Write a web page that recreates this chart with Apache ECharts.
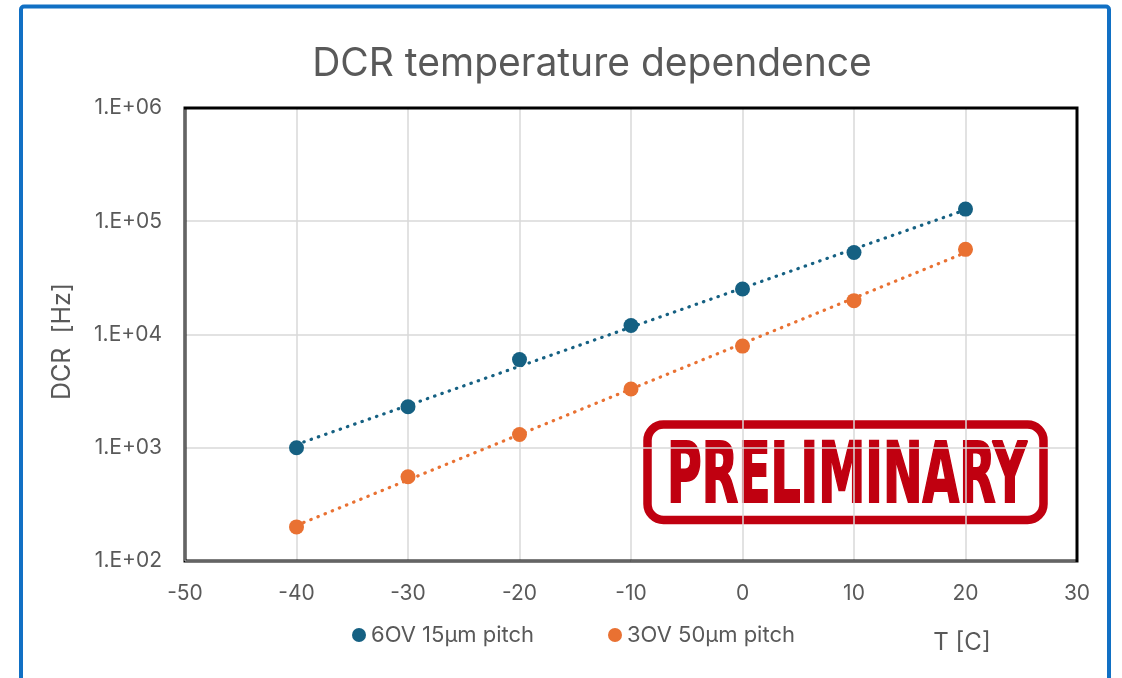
<!DOCTYPE html>
<html>
<head>
<meta charset="utf-8">
<title>DCR temperature dependence</title>
<script src="https://cdn.jsdelivr.net/npm/echarts@6/dist/echarts.min.js"></script>
<style>
  html, body { margin: 0; padding: 0; background: #ffffff; }
  #chart { width: 1122px; height: 678px; }
</style>
</head>
<body>
<div id="chart"></div>
<script>
// Temperatures [C]
const temps = [-40, -30, -20, -10, 0, 10, 20];
// Dark count rate [Hz], 6 OV over-voltage, 15 µm pitch
const dcr6OV = [1000, 2300, 6000, 12000, 25200, 53000, 128000];
// Dark count rate [Hz], 3 OV over-voltage, 50 µm pitch
const dcr3OV = [200, 555, 1310, 3300, 7900, 19900, 56500];

const seriesNames = ['6OV 15µm pitch', '3OV 50µm pitch'];
const xTickLabels = ['-50', '-40', '-30', '-20', '-10', '0', '10', '20', '30'];
const yTickLabels = ['1.E+02', '1.E+03', '1.E+04', '1.E+05', '1.E+06'];

const FONT = 'Inter, "Liberation Sans", Arial, sans-serif';
const TEXT = '#595959';
const BLUE = '#156082';
const ORANGE = '#E97132';
const STAMP_RED = '#C00010';

// Exponential trendline: least-squares fit of log10(y) against x
function expTrend(xs, ys) {
  const ly = ys.map(v => Math.log10(v));
  const n = xs.length;
  const mx = xs.reduce((a, b) => a + b, 0) / n;
  const my = ly.reduce((a, b) => a + b, 0) / n;
  let sxy = 0, sxx = 0;
  for (let i = 0; i < n; i++) {
    sxy += (xs[i] - mx) * (ly[i] - my);
    sxx += (xs[i] - mx) * (xs[i] - mx);
  }
  const b = sxy / sxx, a = my - b * mx;
  return xs.map(x => [x, Math.pow(10, a + b * x)]);
}

const pairs = (xs, ys) => xs.map((x, i) => [x, ys[i]]);

// Horizontal squeeze for the stamp text so it fills its box
function stampScale(font, text, targetWidth) {
  const ctx = document.createElement('canvas').getContext('2d');
  ctx.font = font;
  return targetWidth / ctx.measureText(text).width;
}
const STAMP_FONT = 'bold 83px "DejaVu Sans Condensed", "DejaVu Sans", sans-serif';
const stampSX = stampScale(STAMP_FONT, 'PRELIMINARY', 360);

const chart = echarts.init(document.getElementById('chart'), null, { renderer: 'canvas' });

const dotted = { type: [0.5, 7.2], width: 3.2, cap: 'round' };

const legendBase = {
  top: 624, itemWidth: 14, itemHeight: 14, padding: 0,
  textStyle: { fontFamily: FONT, fontSize: 22, lineHeight: 22, color: TEXT }
};

chart.setOption({
  animation: false,
  backgroundColor: '#ffffff',
  title: {
    text: 'DCR temperature dependence',
    left: 587,
    textAlign: 'center',
    top: 40,
    textStyle: { fontFamily: FONT, fontSize: 39, fontWeight: 'normal', color: TEXT }
  },
  grid: {
    left: 185, top: 108, right: 45, bottom: 117,
    show: false,
    outerBoundsMode: 'none'
  },
  legend: [
    Object.assign({ left: 352, data: [{ name: seriesNames[0], icon: 'circle' }] }, legendBase),
    Object.assign({ left: 608, data: [{ name: seriesNames[1], icon: 'circle' }] }, legendBase)
  ],
  xAxis: {
    type: 'value',
    min: -50, max: 30, interval: 10,
    name: 'T [C]',
    nameLocation: 'end',
    nameGap: -115,
    nameTextStyle: {
      fontFamily: FONT, fontSize: 24, color: TEXT,
      align: 'center', verticalAlign: 'top', padding: [70, 0, 0, 0]
    },
    axisLine: { show: false },
    axisTick: { show: false },
    axisLabel: {
      margin: 22,
      fontFamily: FONT, fontSize: 21, color: TEXT,
      formatter: v => xTickLabels[Math.round((v + 50) / 10)]
    },
    splitLine: { show: true, lineStyle: { color: '#d9d9d9', width: 1.5 } }
  },
  yAxis: {
    type: 'log',
    logBase: 10,
    min: 100, max: 1000000,
    name: 'DCR  [Hz]',
    nameLocation: 'middle',
    nameRotate: 90,
    nameGap: 110,
    nameTextStyle: { fontFamily: FONT, fontSize: 25, color: TEXT, padding: [0, 14, 0, 0] },
    axisLine: { show: false },
    axisTick: { show: false },
    axisLabel: {
      margin: 23,
      fontFamily: FONT, fontSize: 21, color: TEXT,
      formatter: v => yTickLabels[Math.round(Math.log10(v)) - 2]
    },
    splitLine: { show: true, lineStyle: { color: '#d9d9d9', width: 1.5 } }
  },
  series: [
    {
      name: 'trend6', type: 'line', data: expTrend(temps, dcr6OV),
      showSymbol: false, symbol: 'none', color: BLUE,
      lineStyle: Object.assign({ color: BLUE }, dotted), z: 2, silent: true
    },
    {
      name: 'trend3', type: 'line', data: expTrend(temps, dcr3OV),
      showSymbol: false, symbol: 'none', color: ORANGE,
      lineStyle: Object.assign({ color: ORANGE }, dotted), z: 2, silent: true
    },
    {
      name: seriesNames[0], type: 'scatter', data: pairs(temps, dcr6OV),
      symbol: 'circle', symbolSize: 15, itemStyle: { color: BLUE, opacity: 1 }, z: 3
    },
    {
      name: seriesNames[1], type: 'scatter', data: pairs(temps, dcr3OV),
      symbol: 'circle', symbolSize: 15, itemStyle: { color: ORANGE, opacity: 1 }, z: 3
    }
  ],
  graphic: [
    // outer frame
    {
      type: 'rect', silent: true, z: 100,
      shape: { x: 21, y: 6.5, width: 1088, height: 720, r: 3 },
      style: { fill: null, stroke: '#1170C4', lineWidth: 4 }
    },
    // plot-area border
    {
      type: 'rect', silent: true, z: 90,
      shape: { x: 185, y: 108, width: 892, height: 453 },
      style: { fill: null, stroke: '#000000', lineWidth: 3 }
    },
    // light inner line of the plot-area border (left and bottom)
    {
      type: 'polyline', silent: true, z: 91,
      shape: { points: [[185, 109.5], [185, 561], [1075.5, 561]] },
      style: { fill: null, stroke: '#c8c8c8', lineWidth: 1 }
    },
    // "PRELIMINARY" stamp
    {
      type: 'group', z: 50,
      children: [
        {
          type: 'rect', silent: true,
          shape: { x: 637, y: 415, width: 415, height: 117 },
          style: { fill: '#ffffff' }
        },
        {
          type: 'rect', silent: true,
          shape: { x: 647.5, y: 424.5, width: 396, height: 95.5, r: 16 },
          style: { fill: null, stroke: STAMP_RED, lineWidth: 8.5 }
        },
        {
          type: 'text', silent: true,
          x: 847, y: 480, scaleX: stampSX, scaleY: 1,
          style: {
            text: 'PRELIMINARY', x: 0, y: 0,
            font: STAMP_FONT, fill: STAMP_RED,
            stroke: STAMP_RED, lineWidth: 2,
            align: 'center', verticalAlign: 'middle'
          }
        }
      ]
    }
  ]
});
</script>
</body>
</html>
